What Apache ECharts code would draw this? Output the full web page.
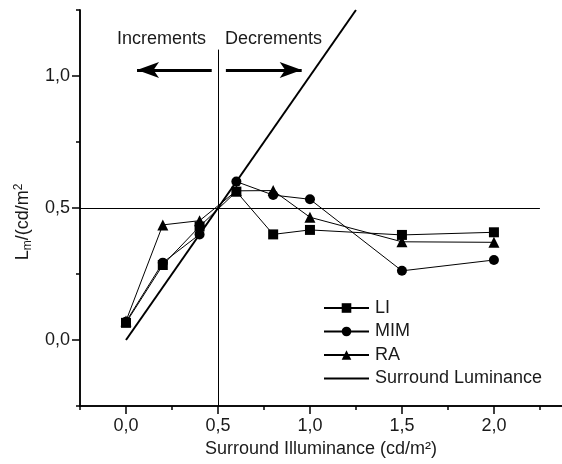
<!DOCTYPE html>
<html>
<head>
<meta charset="utf-8">
<script src="https://cdn.jsdelivr.net/npm/echarts@6/dist/echarts.min.js"></script>
<style>
html, body { margin: 0; padding: 0; background: #fff; }
#main { width: 562px; height: 464px; }
</style>
</head>
<body>
<div id="main"></div>
<script>
// surround illuminance (x), cd/m2
var illum = [0, 0.2, 0.4, 0.6, 0.8, 1.0, 1.5, 2.0];
var li  = [0.065, 0.284, 0.43, 0.562, 0.40, 0.417, 0.398, 0.408];
var mim = [0.069, 0.293, 0.40, 0.60, 0.549, 0.533, 0.262, 0.303];
var ra  = [0.072, 0.436, 0.452, 0.565, 0.566, 0.465, 0.372, 0.37];
// surround luminance line y = x
var surX = [0, 1.25];
var surY = [0, 1.25];

var xMajor = [0, 0.5, 1.0, 1.5, 2.0];
var xMinor = [-0.25, 0.25, 0.75, 1.25, 1.75, 2.25];
var yMajor = [0, 0.5, 1.0];
var yMinor = [-0.25, 0.25, 0.75, 1.25];

var font = 'Liberation Sans, Arial, sans-serif';
var ink = '#1a1a1a';

function pairs(xs, ys) {
	return xs.map(function (x, i) { return [x, ys[i]]; });
}
function comma(v) {
	return v.toFixed(1).replace('.', ',');
}

function dataSeries(name, ys, symbol, size) {
	return {
		name: name,
		type: 'line',
		data: pairs(illum, ys),
		symbol: symbol,
		symbolSize: size,
		itemStyle: { color: '#000' },
		lineStyle: { color: '#000', width: 1 },
		z: 3
	};
}

var xBase = {
	type: 'value',
	min: -0.25,
	max: 2.37,
	position: 'bottom',
	splitLine: { show: false },
	axisLine: { onZero: false, lineStyle: { color: '#000', width: 1.5 } }
};
var yBase = {
	type: 'value',
	min: -0.25,
	max: 1.25,
	position: 'left',
	splitLine: { show: false },
	axisLine: { onZero: false, lineStyle: { color: '#000', width: 1.5 } }
};

var chart = echarts.init(document.getElementById('main'));

var option = {
	animation: false,
	backgroundColor: '#fff',
	textStyle: { fontFamily: font },
	grid: { left: 80, right: 0, top: 10, bottom: 58 },
	//x轴: 主刻度+标签 / 次刻度
	xAxis: [
		Object.assign({}, xBase, {
			name: 'Surround Illuminance (cd/m²)',
			nameLocation: 'middle',
			nameGap: 32,
			nameTextStyle: { fontSize: 18, color: ink, fontFamily: font },
			axisTick: { customValues: xMajor, length: 8, lineStyle: { color: '#000', width: 1.5 } },
			axisLabel: { customValues: xMajor, formatter: comma, fontSize: 18, color: ink, margin: 11, fontFamily: font }
		}),
		Object.assign({}, xBase, {
			axisTick: { customValues: xMinor, length: 4, lineStyle: { color: '#000', width: 1.5 } },
			axisLabel: { show: false }
		})
	],
	//y轴
	yAxis: [
		Object.assign({}, yBase, {
			name: '{a|L}{sub|m}{a|/(cd/m}{sup|2}',
			nameLocation: 'middle',
			nameGap: 45,
			nameTextStyle: {
				color: ink,
				padding: [0, 28, 0, 0],
				rich: {
					a: { fontSize: 18, color: ink, fontFamily: font },
					sub: { fontSize: 12, color: ink, fontFamily: font, padding: [10, 0, 0, 0] },
					sup: { fontSize: 12, color: ink, fontFamily: font, padding: [0, 0, 9, 0] }
				}
			},
			axisTick: { customValues: yMajor, length: 8, lineStyle: { color: '#000', width: 1.5 } },
			axisLabel: { customValues: yMajor, formatter: comma, fontSize: 18, color: ink, margin: 10, fontFamily: font }
		}),
		Object.assign({}, yBase, {
			axisTick: { customValues: yMinor, length: 4, lineStyle: { color: '#000', width: 1.5 } },
			axisLabel: { show: false }
		})
	],
	//图例
	legend: {
		orient: 'vertical',
		left: 323,
		top: 299,
		padding: 0,
		itemWidth: 45,
		itemHeight: 12,
		itemGap: 5.5,
		textStyle: { fontSize: 18, color: ink, fontFamily: font, padding: [0, 0, 0, 1] },
		data: ['LI', 'MIM', 'RA', { name: 'Surround Luminance', icon: 'path://M0,0H45V2H0Z' }]
	},
	graphic: [
		{ type: 'text', left: 117, top: 30, style: { text: 'Increments', fontSize: 18, fill: ink, fontFamily: font } },
		{ type: 'text', left: 225, top: 30, style: { text: 'Decrements', fontSize: 18, fill: ink, fontFamily: font } }
	],
	series: [
		dataSeries('LI', li, 'rect', 10),
		dataSeries('MIM', mim, 'circle', 10),
		dataSeries('RA', ra, 'triangle', 11),
		{
			name: 'Surround Luminance',
			type: 'line',
			data: pairs(surX, surY),
			symbol: 'none',
			itemStyle: { color: '#000' },
			lineStyle: { color: '#000', width: 2 },
			z: 2,
			markLine: {
				silent: true,
				animation: false,
				label: { show: false },
				lineStyle: { color: '#000', width: 1, type: 'solid' },
				data: [
					[{ coord: [0.5, 1.1], symbol: 'none' }, { coord: [0.5, -0.25], symbol: 'none' }],
					[{ coord: [-0.25, 0.5], symbol: 'none' }, { coord: [2.25, 0.5], symbol: 'none' }],
					[{ coord: [0.466, 1.023], symbol: 'none', lineStyle: { width: 3 } },
					 { coord: [0.06, 1.023], symbol: 'arrow', symbolSize: [12, 22] }],
					[{ coord: [0.543, 1.023], symbol: 'none', lineStyle: { width: 3 } },
					 { coord: [0.955, 1.023], symbol: 'arrow', symbolSize: [12, 22] }]
				]
			}
		}
	]
};

chart.setOption(option);
</script>
</body>
</html>
